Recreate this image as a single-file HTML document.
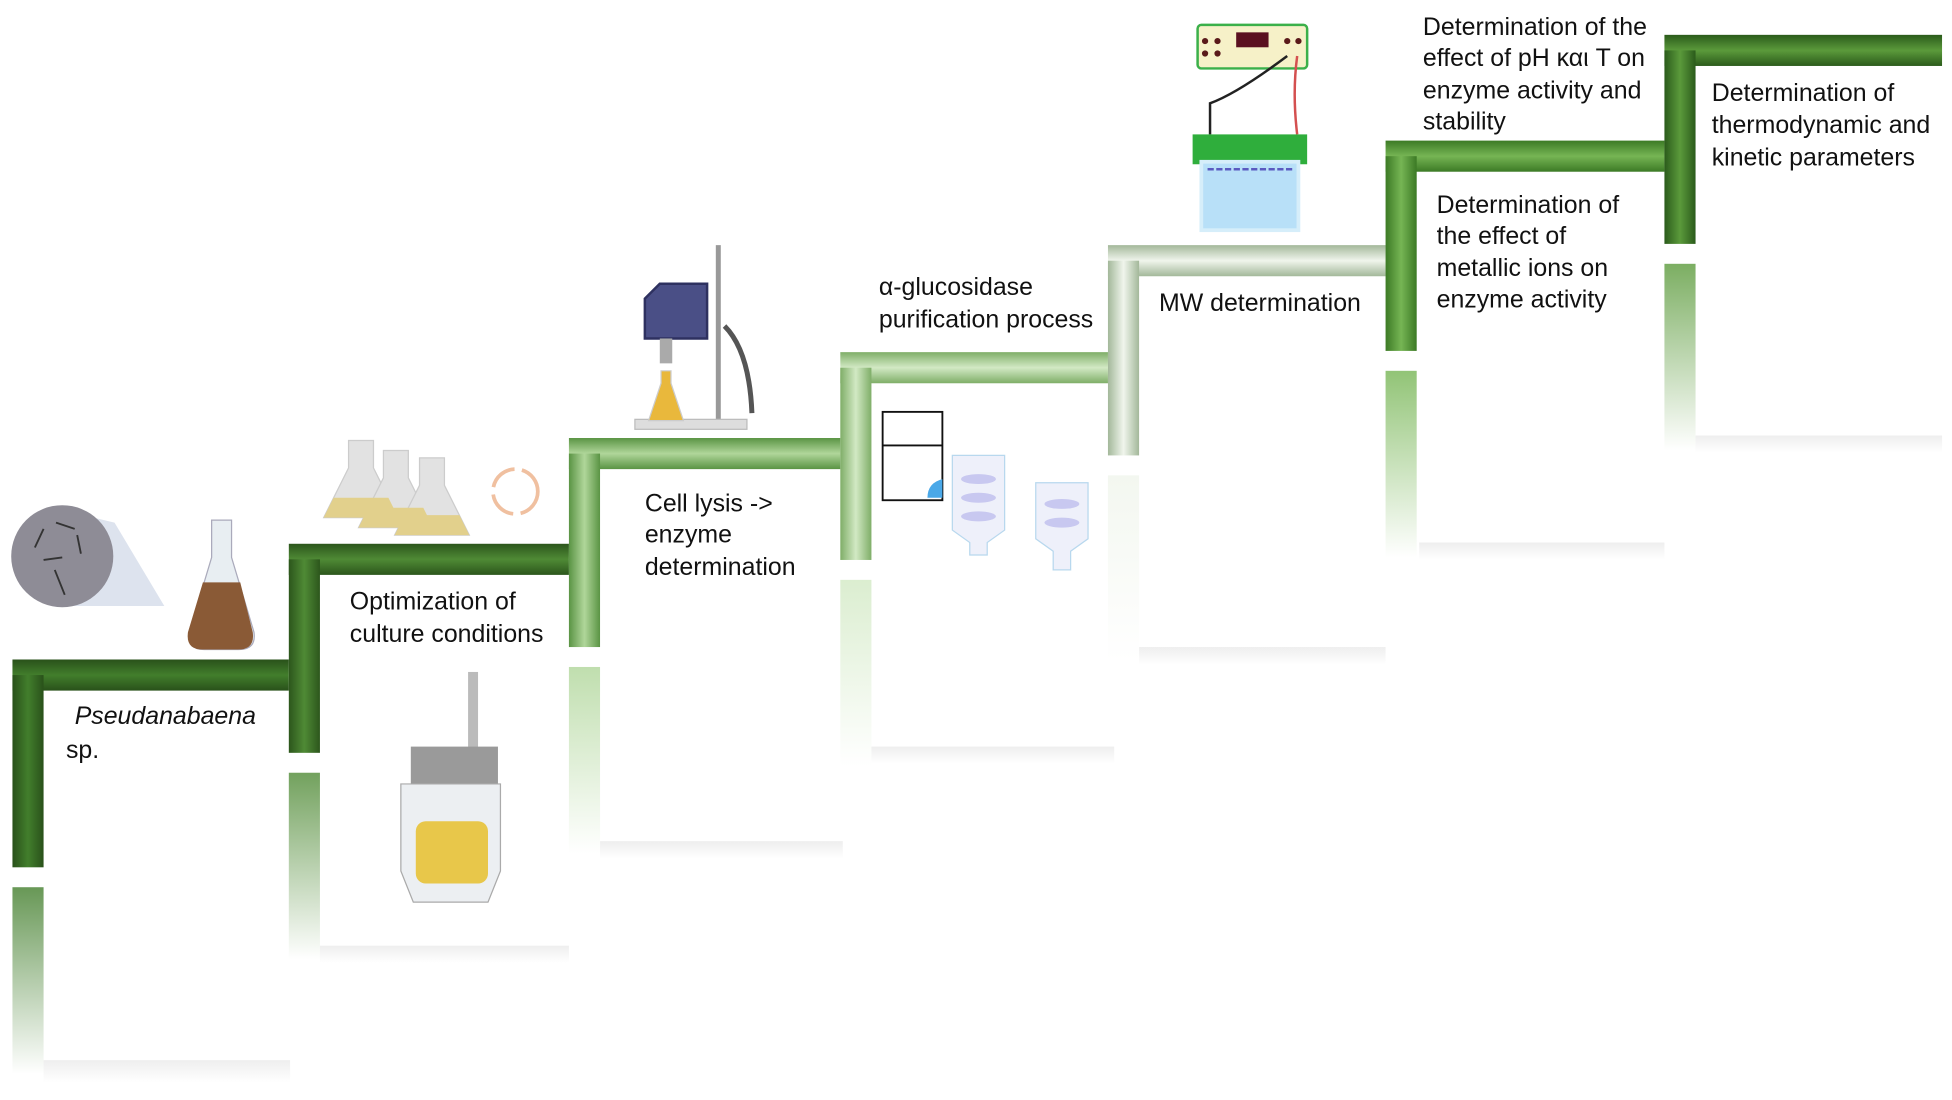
<!DOCTYPE html>
<html><head><meta charset="utf-8"><style>
html,body{margin:0;padding:0;background:#fff;}
svg{display:block}
text{font-family:"Liberation Sans",sans-serif;font-size:20px;fill:#111}
</style></head><body>
<svg width="1952" height="1100" viewBox="0 0 1568 884" preserveAspectRatio="none" xmlns="http://www.w3.org/2000/svg">
<defs>
<linearGradient id="shadow" x1="0" y1="0" x2="0" y2="1"><stop offset="0" stop-color="#eee"/><stop offset="1" stop-color="#fff"/></linearGradient>
</defs>
<g id="steps"></g>
<g>
<rect x="35" y="852" width="198" height="18" fill="url(#shadow)"/>
<rect x="257" y="760" width="200" height="14" fill="url(#shadow)"/>
<rect x="482" y="676" width="195" height="14" fill="url(#shadow)"/>
<rect x="700" y="600" width="195" height="14" fill="url(#shadow)"/>
<rect x="915" y="520" width="198" height="14" fill="url(#shadow)"/>
<rect x="1140" y="436" width="197" height="14" fill="url(#shadow)"/>
<rect x="1362" y="350" width="198" height="14" fill="url(#shadow)"/>
</g>
</svg>
<script>
(function(){
var svg=document.querySelector('svg'),defs=svg.querySelector('defs'),g=svg.querySelector('#steps');
var NS='http://www.w3.org/2000/svg';
var steps=[
[10,530,232,697,'#29511a','#427e2c'],
[232,437,457,605,'#2c561c','#4f8a35'],
[457,352,675,520,'#5a9444','#b0d69a'],
[675,283,890,450,'#7fae68','#d2e9c4'],
[890,197,1113,366,'#a3b89a','#f0f5ec'],
[1113,113,1337,282,'#3c7a25','#76b554'],
[1337,28,1560,196,'#2b5b1b','#5b9a3b']];
function el(n,a,p){var e=document.createElementNS(NS,n);for(var k in a)e.setAttribute(k,a[k]);(p||g).appendChild(e);return e;}
steps.forEach(function(s,i){
 var x=s[0],y=s[1],r=s[2],b=s[3],T=25;
 var gh=el('linearGradient',{id:'h'+i,x1:0,y1:0,x2:0,y2:1},defs);
 el('stop',{offset:0,'stop-color':s[4]},gh);el('stop',{offset:0.5,'stop-color':s[5]},gh);el('stop',{offset:1,'stop-color':s[4]},gh);
 var gv=el('linearGradient',{id:'v'+i,x1:0,y1:0,x2:1,y2:0},defs);
 el('stop',{offset:0,'stop-color':s[4]},gv);el('stop',{offset:0.5,'stop-color':s[5]},gv);el('stop',{offset:1,'stop-color':s[4]},gv);
 var gr=el('linearGradient',{id:'r'+i,x1:0,y1:0,x2:0,y2:1},defs);
 el('stop',{offset:0,'stop-color':s[5],'stop-opacity':0.8},gr);el('stop',{offset:1,'stop-color':s[5],'stop-opacity':0},gr);
 el('rect',{x:x,y:b+16,width:T,height:150,fill:'url(#r'+i+')'});
 el('rect',{x:x,y:y,width:r-x,height:T,fill:'url(#h'+i+')'});
 el('rect',{x:x,y:y+T/2,width:T,height:b-y-T/2,fill:'url(#v'+i+')'});
});
})();
</script>
<svg width="1952" height="1100" viewBox="0 0 1568 884" preserveAspectRatio="none" xmlns="http://www.w3.org/2000/svg" style="position:absolute;left:0;top:0">
<polygon points="50,410 92,420 132,487 50,487" fill="#dde3ee"/>
<circle cx="50" cy="447" r="41" fill="#8e8c96"/>
<g stroke="#333" stroke-width="1.5"><line x1="28" y1="440" x2="35" y2="425"/><line x1="45" y1="420" x2="60" y2="425"/><line x1="62" y1="430" x2="65" y2="445"/><line x1="35" y1="450" x2="50" y2="448"/><line x1="44" y1="458" x2="52" y2="478"/></g>
<path d="M170,418 h16 v30 l18,60 q2,14 -12,14 h-28 q-14,0 -12,-14 l18,-60 z" fill="#e8eef2" stroke="#aab" stroke-width="1"/>
<path d="M163,468 h30 l10,40 q2,14 -12,14 h-28 q-14,0 -12,-14 z" fill="#8a5a36"/>
<g fill="#e2e2e2" stroke="#ccc">
<path d="M280,354 h20 v22 l20,40 h-60 l20,-40 z"/>
<path d="M308,362 h20 v22 l20,40 h-60 l20,-40 z"/>
<path d="M337,368 h20 v22 l20,40 h-60 l20,-40 z"/>
</g>
<polygon points="268,400 312,400 320,416 260,416" fill="#e2d08c"/>
<polygon points="296,408 340,408 348,424 288,424" fill="#e2d08c"/>
<polygon points="325,414 369,414 377,430 317,430" fill="#e2d08c"/>
<circle cx="414" cy="395" r="18" fill="none" stroke="#f0c0a0" stroke-width="3" stroke-dasharray="24 6"/>
<rect x="376" y="540" width="8" height="70" fill="#bbb"/>
<rect x="330" y="600" width="70" height="30" fill="#9a9a9a"/>
<path d="M322,630 h80 v70 l-10,25 h-60 l-10,-25 z" fill="#eceff2" stroke="#aaa"/>
<rect x="334" y="660" width="58" height="50" rx="8" fill="#e8c74a"/>
<rect x="575" y="197" width="4" height="148" fill="#999"/>
<rect x="510" y="337" width="90" height="8" fill="#ddd" stroke="#bbb"/>
<path d="M530,228 h38 v44 h-50 v-32 z" fill="#4a4f86" stroke="#2e3160" stroke-width="2"/>
<rect x="530" y="272" width="10" height="20" fill="#aaa"/>
<path d="M582,262 q20,20 22,70" stroke="#555" stroke-width="4" fill="none"/>
<path d="M531,298 h8 v10 l10,30 h-28 l10,-30 z" fill="#e9b83c" stroke="#ccc"/>
<rect x="709" y="331" width="48" height="71" fill="#fff" stroke="#111" stroke-width="1.5"/>
<line x1="709" y1="358" x2="757" y2="358" stroke="#111" stroke-width="1.5"/>
<path d="M745,400 q0,-12 12,-15 v15 z" fill="#4aa8e8"/>
<path d="M765,366 h42 v60 l-14,10 v10 h-14 v-10 l-14,-10 z" fill="#eef0fa" stroke="#b8d8ee"/>
<path d="M832,388 h42 v45 l-14,10 v15 h-14 v-15 l-14,-10 z" fill="#eef0fa" stroke="#b8d8ee"/>
<g fill="#c8c8f0"><ellipse cx="786" cy="385" rx="14" ry="4"/><ellipse cx="786" cy="400" rx="14" ry="4"/><ellipse cx="786" cy="415" rx="14" ry="4"/><ellipse cx="853" cy="405" rx="14" ry="4"/><ellipse cx="853" cy="420" rx="14" ry="4"/></g>
<rect x="962" y="20" width="88" height="35" rx="3" fill="#f6f1c8" stroke="#3bb04a" stroke-width="2"/>
<rect x="993" y="26" width="26" height="12" fill="#5a1020"/>
<g fill="#5a1a1a"><circle cx="968" cy="33" r="2.5"/><circle cx="978" cy="33" r="2.5"/><circle cx="968" cy="43" r="2.5"/><circle cx="978" cy="43" r="2.5"/><circle cx="1034" cy="33" r="2.5"/><circle cx="1043" cy="33" r="2.5"/></g>
<path d="M1034,45 q-40,30 -62,38 v25" stroke="#222" stroke-width="2" fill="none"/>
<path d="M1042,45 q-4,30 0,63" stroke="#d45050" stroke-width="2" fill="none"/>
<rect x="958" y="108" width="92" height="24" fill="#2fae3c"/>
<rect x="965" y="130" width="78" height="55" fill="#b8e0f8" stroke="#d6eefa" stroke-width="3"/>
<line x1="970" y1="136" x2="1038" y2="136" stroke="#5a5ac0" stroke-width="2" stroke-dasharray="5 2"/>
<text x="60" y="582" font-style="italic">Pseudanabaena</text>
<text x="53" y="609">sp.</text>
<text x="281" y="490">Optimization of</text>
<text x="281" y="516">culture conditions</text>
<text x="518" y="411">Cell lysis -&gt;</text>
<text x="518" y="436">enzyme</text>
<text x="518" y="462">determination</text>
<text x="706" y="237">α-glucosidase</text>
<text x="706" y="263">purification process</text>
<text x="931" y="250">MW determination</text>
<text x="1143" y="28">Determination of the</text>
<text x="1143" y="53">effect of pH και T on</text>
<text x="1143" y="79">enzyme activity and</text>
<text x="1143" y="104">stability</text>
<text x="1154" y="171">Determination of</text>
<text x="1154" y="196">the effect of</text>
<text x="1154" y="222">metallic ions on</text>
<text x="1154" y="247">enzyme activity</text>
<text x="1375" y="81">Determination of</text>
<text x="1375" y="107">thermodynamic and</text>
<text x="1375" y="133">kinetic parameters</text>
</svg>
</body></html>
